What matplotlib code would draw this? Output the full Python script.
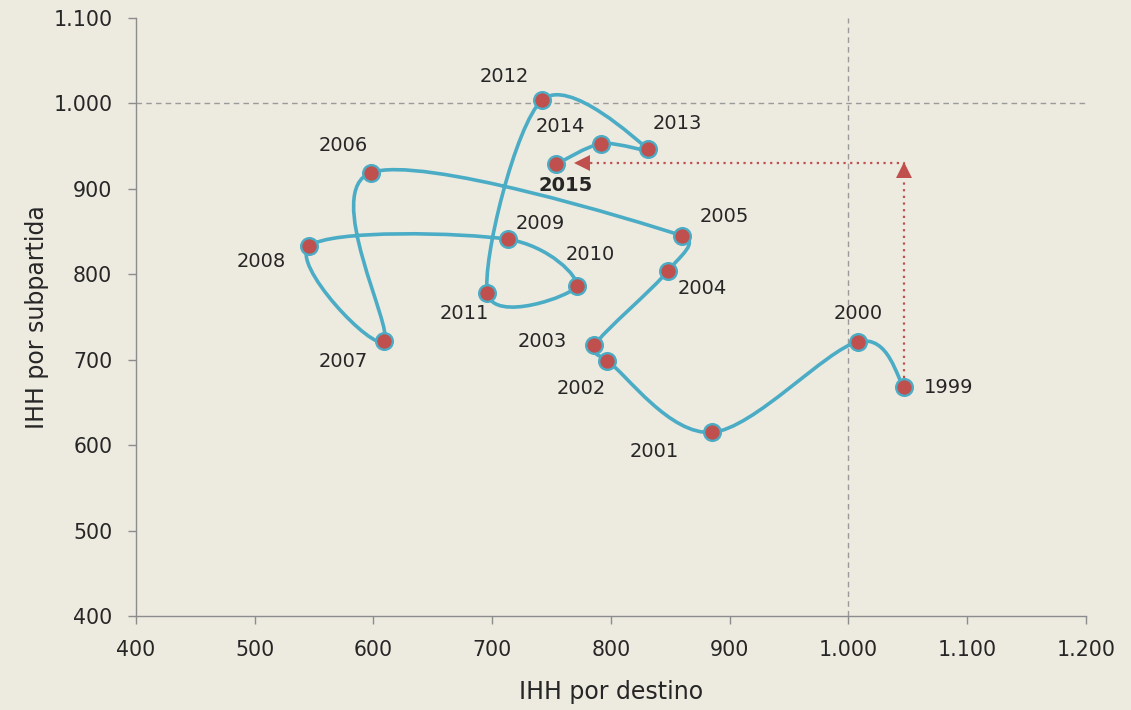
import numpy as np
import matplotlib.pyplot as plt
from matplotlib.path import Path
from matplotlib.patches import PathPatch
from matplotlib import transforms

plt.rcParams['font.family'] = ['DejaVu Sans']

years = [1999, 2000, 2001, 2002, 2003, 2004, 2005, 2006, 2007,
         2008, 2009, 2010, 2011, 2012, 2013, 2014, 2015]
ihh_destino = [1047, 1008, 885, 797, 786, 848, 860, 598, 609,
               546, 713, 771, 696, 742, 831, 792, 754]
ihh_subpartida = [668, 721, 615, 699, 717, 804, 845, 919, 722,
                  833, 841, 786, 778, 1004, 947, 953, 929]

# label offsets in pixels (dx right, dy down)
label_off = [(20, 0, 'left'), (0, -28, 'center'), (-58, 19, 'center'), (-26, 28, 'center'),
             (-52, -4, 'center'), (34, 18, 'center'), (42, -19, 'center'), (-28, -27, 'center'),
             (-41, 21, 'center'), (-48, 15, 'center'), (33, -16, 'center'), (14, -32, 'center'),
             (-23, 20, 'center'), (-38, -24, 'center'), (30, -25, 'center'), (-41, -17, 'center'),
             (9, 21, 'center')]

xticks = [400, 500, 600, 700, 800, 900, 1000, 1100, 1200]
yticks = [400, 500, 600, 700, 800, 900, 1000, 1100]

bg = '#edeae0'
blue = '#4bacc6'
red = '#c0504d'
grey = '#8c8c8c'
txt = '#262626'

fig = plt.figure(figsize=(11.31, 7.10), dpi=100, facecolor=bg)
ax = fig.add_axes([0.1202, 0.1324, 0.8400, 0.8422])
ax.set_facecolor(bg)
ax.set_xlim(400, 1200)
ax.set_ylim(400, 1100)

# reference lines
ax.axvline(1000, color='#9a9a9a', lw=1.0, ls=(0, (4, 3)), zorder=1)
ax.axhline(1000, color='#9a9a9a', lw=1.0, ls=(0, (4, 3)), zorder=1)

# smoothed line like excel: catmull-rom handles, clamped on short segments
sx, sy = 1.187, 0.854
P = np.column_stack([np.array(ihh_destino) * sx, np.array(ihh_subpartida) * sy])
ext = np.vstack([P[0], P, P[-1]])


def clamp(h, L):
    n = np.hypot(*h)
    return h * (0.5 * L / n) if n > 0.5 * L else h


verts = [tuple(P[0])]
codes = [Path.MOVETO]
for i in range(len(P) - 1):
    p0, p1, p2, p3 = ext[i], ext[i + 1], ext[i + 2], ext[i + 3]
    L = np.hypot(*(p2 - p1))
    c1 = p1 + clamp((p2 - p0) / 6.0, L)
    c2 = p2 - clamp((p3 - p1) / 6.0, L)
    verts += [tuple(c1), tuple(c2), tuple(p2)]
    codes += [Path.CURVE4] * 3
verts = [(vx / sx, vy / sy) for vx, vy in verts]
ax.add_patch(PathPatch(Path(verts, codes), facecolor='none', edgecolor=blue, lw=2.6, zorder=3))

ax.plot(ihh_destino, ihh_subpartida, ls='none', marker='o', ms=12,
        mfc=red, mec=blue, mew=1.7, zorder=4)

for yr, x, y, (dx, dy, ha) in zip(years, ihh_destino, ihh_subpartida, label_off):
    ax.annotate(str(yr), (x, y), xytext=(dx, -dy), textcoords='offset pixels',
                ha=ha, va='center', fontsize=14, color=txt,
                fontweight='bold' if yr == 2015 else 'normal', zorder=5)

# dotted arrows from 1999 to 2015
ax_x = ihh_destino[0]
ax_y = 930
tip_x = 770
ax.plot([ax_x, ax_x, tip_x], [ihh_subpartida[0] + 11, ax_y, ax_y],
        color=red, lw=1.6, ls=(0, (1, 2)), zorder=2)
t_up = transforms.offset_copy(ax.transData, fig=fig, x=0, y=-7, units='dots')
t_left = transforms.offset_copy(ax.transData, fig=fig, x=7, y=0, units='dots')
ax.plot([ax_x], [ax_y], marker='^', ms=11, color=red, mew=0, transform=t_up, zorder=2)
ax.plot([tip_x], [ax_y], marker='<', ms=11, color=red, mew=0, transform=t_left, zorder=2)

for s in ['top', 'right']:
    ax.spines[s].set_visible(False)
for s in ['left', 'bottom']:
    ax.spines[s].set_color(grey)
    ax.spines[s].set_linewidth(1.0)
ax.set_xticks(xticks)
ax.set_yticks(yticks)
fmt = lambda v: f'{v:,}'.replace(',', '.')
ax.set_xticklabels([fmt(v) for v in xticks])
ax.set_yticklabels([fmt(v) for v in yticks])
ax.tick_params(colors=grey, labelcolor=txt, labelsize=14.8, length=6, width=1.0)
ax.tick_params(axis='x', pad=11)
ax.tick_params(axis='y', pad=11)

ax.set_xlabel('IHH por destino', fontsize=17, color=txt, labelpad=15)
ax.set_ylabel('IHH por subpartida', fontsize=17, color=txt, labelpad=3)

fig.savefig('out.png', dpi=100, facecolor=bg)
